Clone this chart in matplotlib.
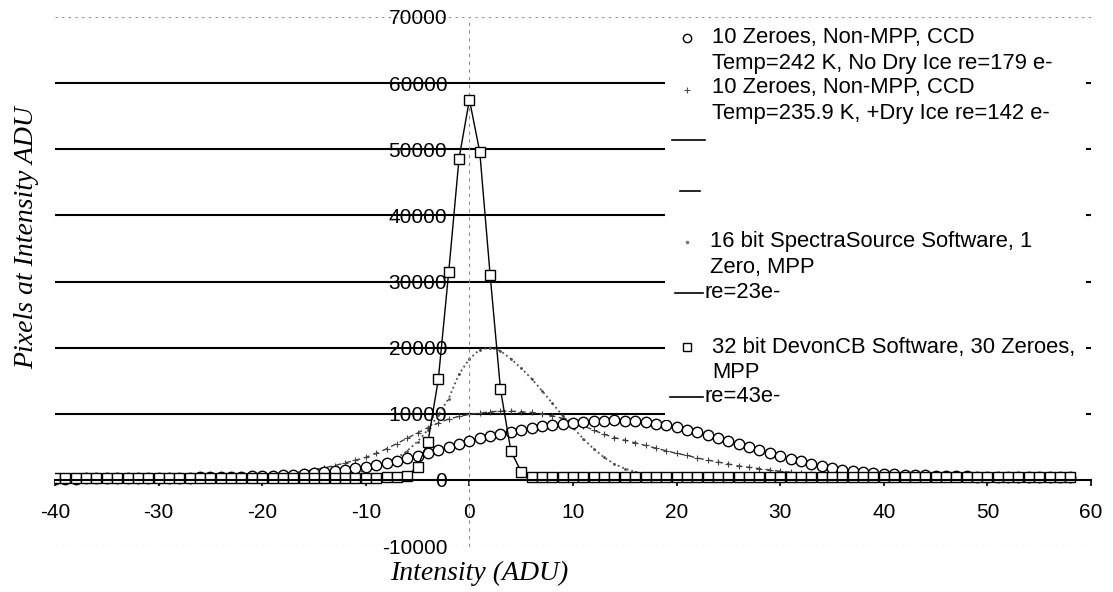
import matplotlib
matplotlib.use('Agg')
import matplotlib.pyplot as plt
import numpy as np
from matplotlib.lines import Line2D
from matplotlib.patches import Rectangle

plt.rcParams['font.family'] = 'Liberation Sans'
plt.rcParams['axes.unicode_minus'] = False

# Intensity (ADU) bins
x = list(range(-40, 59))

# 10 Zeroes, Non-MPP, no dry ice (re=179 e-)
no_ice = [200, 200, 200, 210, 220, 220, 230, 240, 250, 260,
          280, 300, 320, 340, 360, 380, 410, 440, 480, 520,
          570, 640, 720, 810, 910, 1030, 1170, 1330, 1520, 1740,
          2000, 2280, 2580, 2900, 3250, 3600, 4000, 4450, 4900, 5400,
          5900, 6300, 6700, 7000, 7300, 7600, 7850, 8100, 8300, 8500,
          8650, 8800, 8900, 8950, 9000, 8950, 8850, 8700, 8500, 8250,
          7950, 7600, 7200, 6800, 6350, 5900, 5400, 4950, 4500, 4050,
          3600, 3200, 2800, 2450, 2100, 1750, 1500, 1300, 1150, 1020,
          920, 840, 780, 720, 670, 630, 590, 560, 530, 510,
          480, 470, 460, 450, 450, 440, 440, 430, 430]

# 10 Zeroes, Non-MPP, + dry ice (re=142 e-)
dry_ice = [150, 150, 150, 160, 160, 170, 170, 180, 190, 200,
           210, 220, 240, 260, 280, 300, 330, 370, 420, 480,
           650, 760, 900, 1070, 1280, 1530, 1820, 2170, 2560, 2970,
           3400, 4000, 4700, 5500, 6300, 7100, 7900, 8600, 9200, 9600,
           9900, 10100, 10300, 10400, 10400, 10300, 10200, 10000, 9700, 9300,
           8800, 8200, 7500, 6900, 6400, 6000, 5600, 5200, 4800, 4400,
           4000, 3700, 3300, 3000, 2700, 2400, 2100, 1900, 1700, 1500,
           1300, 1150, 1000, 900, 800, 700, 620, 560, 500, 450,
           420, 400, 390, 380, 370, 360, 350, 350, 340, 340,
           330, 330, 320, 320, 310, 310, 300, 300, 300]

# 16 bit SpectraSource, 1 zero, MPP (re=23e-)
spectra = [200, 200, 200, 200, 200, 210, 210, 210, 220, 220,
           220, 230, 230, 240, 240, 250, 260, 270, 280, 300,
           320, 340, 370, 400, 440, 500, 580, 700, 860, 1080,
           1400, 1850, 2500, 3300, 4400, 5800, 7600, 9800, 12300, 16000,
           18300, 19700, 20000, 19500, 18300, 16900, 15300, 13500, 11600, 9700,
           7900, 6200, 4700, 3400, 2400, 1700, 1200, 850, 620, 480,
           400, 360, 330, 310, 300, 290, 280, 270, 260, 250,
           250, 240, 240, 230, 230, 220, 220, 210, 210, 200,
           200, 200, 200, 200, 200, 200, 200, 200, 200, 200,
           200, 200, 200, 200, 200, 200, 200, 200, 200]

# 32 bit DevonCB, 30 zeroes, MPP (re=43e-)
devon = [250, 250, 250, 250, 250, 250, 250, 250, 250, 250,
         260, 260, 270, 270, 280, 280, 290, 290, 300, 300,
         300, 300, 310, 310, 320, 320, 330, 330, 340, 340,
         350, 350, 360, 380, 600, 2000, 5700, 15200, 31400, 48600,
         57500, 49600, 31000, 13700, 4400, 1200, 500, 400, 380, 370,
         370, 370, 360, 360, 360, 360, 360, 360, 360, 360,
         420, 420, 420, 420, 420, 420, 420, 420, 420, 420,
         420, 420, 420, 420, 420, 420, 420, 420, 420, 420,
         400, 400, 400, 400, 400, 400, 400, 400, 400, 400,
         380, 380, 380, 380, 380, 380, 380, 380, 380]

W, H = 1113, 592
fig = plt.figure(figsize=(W / 100, H / 100), dpi=100)
ax = fig.add_axes([55 / W, 1 - 546 / H, 1036 / W, 529 / H])


def fxy(px, py):
    # pixel position -> figure fraction
    return px / W, 1 - py / H


ax.set_xlim(-40, 60)
ax.set_ylim(-10000, 70000)

# horizontal gridlines
for g in np.arange(10000, 70000, 10000):
    ax.axhline(g, color='black', lw=1.5, zorder=0.5)
for g in (-10000, 70000):
    ax.axhline(g, color='0.55', lw=0.8, ls=(0, (2, 4)), zorder=0.5)

# series
ax.plot(x, spectra, color='0.3', ls=':', lw=1.3, marker='.', ms=2, zorder=2)
ax.plot(x, dry_ice, color='0.25', ls=(0, (4, 3)), lw=1.0, marker='+', ms=4,
        mew=0.8, zorder=2)
ax.plot(x, no_ice, color='black', lw=0.9, marker='o', ms=7.5, mfc='white',
        mec='black', mew=1.0, zorder=3)
ax.plot(x, devon, color='black', lw=1.0, marker='s', ms=7.5, mfc='white',
        mec='black', mew=1.0, zorder=4)

# axes crossing at zero
for s in ('top', 'right'):
    ax.spines[s].set_visible(False)
ax.spines['bottom'].set_position(('data', 0))
ax.spines['bottom'].set_linewidth(1.5)
ax.spines['bottom'].set_zorder(5)
ax.spines['left'].set_position(('data', 0))
ax.spines['left'].set_color('0.55')
ax.spines['left'].set_linestyle((0, (2, 5)))
ax.spines['left'].set_linewidth(0.8)

ax.set_xticks(np.arange(-40, 61, 10))
ax.set_yticks(np.arange(-10000, 70001, 10000))
ax.set_xticklabels([str(v) for v in np.arange(-40, 61, 10)])
ax.set_yticklabels([str(v) for v in np.arange(-10000, 70001, 10000)])
ax.tick_params(axis='x', direction='out', length=4, width=1.2, pad=13,
               labelsize=15)
ax.tick_params(axis='y', direction='out', length=0, pad=16, labelsize=15)

# legend box drawn by hand to follow the original layout
x0, y0 = fxy(665, 420)
x1, y1 = fxy(1086, 22)
fig.add_artist(Rectangle((x0, y0), x1 - x0, y1 - y0, transform=fig.transFigure,
                         facecolor='white', edgecolor='none', zorder=1))

leg_fs = 15.8
legend_text = [
    (712, 38, '10 Zeroes, Non-MPP, CCD'),
    (712, 63, 'Temp=242 K, No Dry Ice re=179 e-'),
    (712, 88, '10 Zeroes, Non-MPP, CCD'),
    (712, 113, 'Temp=235.9 K, +Dry Ice re=142 e-'),
    (710, 242, '16 bit SpectraSource Software, 1'),
    (710, 267, 'Zero, MPP'),
    (705, 293, 're=23e-'),
    (712, 347, '32 bit DevonCB Software, 30 Zeroes,'),
    (712, 372, 'MPP'),
    (705, 397, 're=43e-'),
]
for px, py, t in legend_text:
    fx, fy = fxy(px, py)
    fig.text(fx, fy, t, fontsize=leg_fs, va='center', ha='left', zorder=6)

legend_marks = [
    (687, 38, dict(marker='o', ms=6, mfc='white', mec='black', mew=1.0)),
    (687, 90, dict(marker='+', ms=5, color='0.3', mew=0.8)),
    (687, 242, dict(marker='.', ms=3, color='0.45')),
    (687, 347, dict(marker='s', ms=6, mfc='white', mec='black', mew=1.0)),
]
for px, py, st in legend_marks:
    fx, fy = fxy(px, py)
    fig.add_artist(Line2D([fx], [fy], transform=fig.transFigure, ls='none',
                          zorder=6, **st))

legend_lines = [(672, 705, 140), (680, 700, 191), (675, 703, 293),
                (670, 703, 397)]
for pa, pb, py in legend_lines:
    fa, fy = fxy(pa, py)
    fb, _ = fxy(pb, py)
    fig.add_artist(Line2D([fa, fb], [fy, fy], transform=fig.transFigure,
                          color='black', lw=1.2, zorder=6))

# axis titles
fx, fy = fxy(479, 573)
fig.text(fx, fy, 'Intensity (ADU)', fontsize=20, style='italic',
         family='Liberation Serif', ha='center', va='center')
fx, fy = fxy(27, 238)
fig.text(fx, fy, 'Pixels at Intensity ADU', fontsize=20, style='italic',
         family='Liberation Serif', ha='center', va='center', rotation=90)

fig.savefig('out.png', dpi=100)
